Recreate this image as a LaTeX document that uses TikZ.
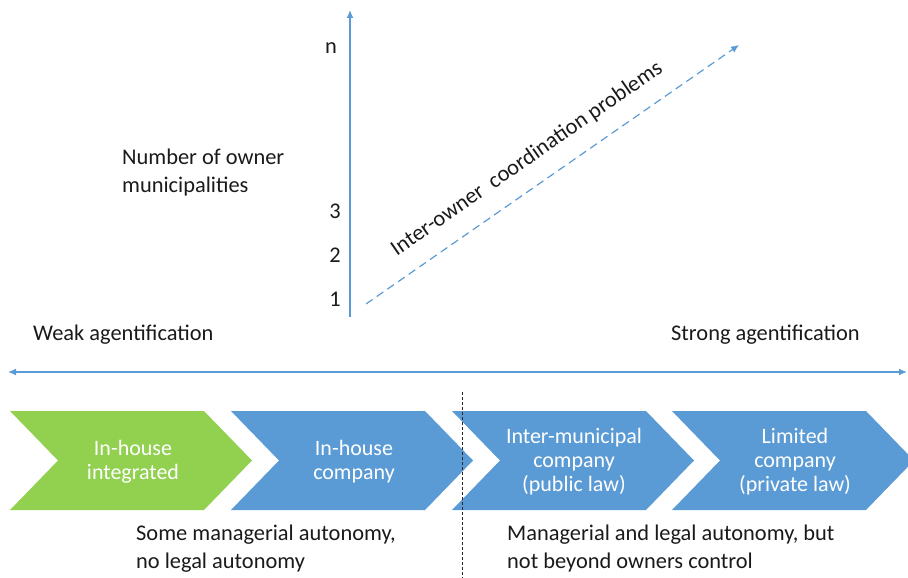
\documentclass[tikz,border=0pt]{standalone}
\usepackage{fontspec}
\setmainfont{Carlito}
\usetikzlibrary{arrows.meta}
\definecolor{axisblue}{HTML}{5B9BD5}
\definecolor{stepblue}{HTML}{5B9BD5}
\definecolor{stepgreen}{HTML}{92D050}
\definecolor{txt}{HTML}{1A1A1A}
\tikzset{
  lbl/.style={font=\fontsize{22.4}{28}\selectfont, text=txt, inner sep=0pt},
  steptext/.style={font=\fontsize{22}{24}\selectfont, text=white, align=center, inner sep=0pt},
  axis/.style={draw=axisblue, line width=1.4pt, -{Latex[length=8pt,width=7pt]}},
  twoway/.style={draw=axisblue, line width=1.4pt, {Latex[length=8pt,width=7pt]}-{Latex[length=8pt,width=7pt]}},
  trend/.style={draw=axisblue, line width=1.2pt, dash pattern=on 8pt off 5pt, -{Latex[length=8pt,width=7pt]}},
  divider/.style={draw=black!85, line width=0.9pt, dash pattern=on 3pt off 2pt},
}
% chevron with left edge at #1, filled with #2
\newcommand{\chev}[2]{%
  \fill[#2] (#1,411) -- ++(194,0) -- ++(48,49.5) -- ++(-48,49.5) -- ++(-194,0) -- ++(48,-49.5) -- cycle;}
\begin{document}
\begin{tikzpicture}[x=1pt, y=-1pt]
  \useasboundingbox (0,0) rectangle (908,578);
  \clip (0,0) rectangle (908,578);

  % vertical axis: number of owners
  \coordinate (ybot) at (350,317);
  \coordinate (ytop) at (350,10);
  \draw[axis] (ybot) -- (ytop);
  \node[lbl] (n) at (331,48) {n};
  \node[lbl] (k3) at (335,211) {3};
  \node[lbl] (k2) at (335,255) {2};
  \node[lbl] (k1) at (335,299) {1};
  \node[lbl, anchor=west, align=left] (owners) at (122,173) {Number of owner\\municipalities};

  % trend of coordination problems
  \coordinate (tstart) at (366,304);
  \coordinate (tend) at (739,45);
  \draw[trend] (tstart) -- (tend);
  \node[lbl, rotate=34.7] (coord) at (527,159) {Inter-owner\ \ coordination problems};

  % agentification scale
  \node[lbl, anchor=west] (weak) at (33,335) {Weak agentification};
  \node[lbl, anchor=west] (strong) at (671,335) {Strong agentification};
  \coordinate (hl) at (8,372);
  \coordinate (hr) at (907,372);
  \draw[twoway] (hl) -- (hr);

  % organisational forms
  \chev{10}{stepgreen}
  \chev{231}{stepblue}
  \chev{452}{stepblue}
  \chev{672}{stepblue}
  \node[steptext] (s1) at (133,462) {In-house\\integrated};
  \node[steptext] (s2) at (354,462) {In-house\\company};
  \node[steptext] (s3) at (574,462) {Inter-municipal\\company\\(public law)};
  \node[steptext] (s4) at (795,462) {Limited\\company\\(private law)};

  % split between the two autonomy groups
  \coordinate (dtop) at (462,392);
  \coordinate (dbot) at (462,578);
  \draw[divider] (dtop) -- (dbot);

  \node[lbl, anchor=west, align=left] (left) at (136,549) {Some managerial autonomy,\\no legal autonomy};
  \node[lbl, anchor=west, align=left] (right) at (507,549) {Managerial and legal autonomy, but\\not beyond owners control};
\end{tikzpicture}
\end{document}
